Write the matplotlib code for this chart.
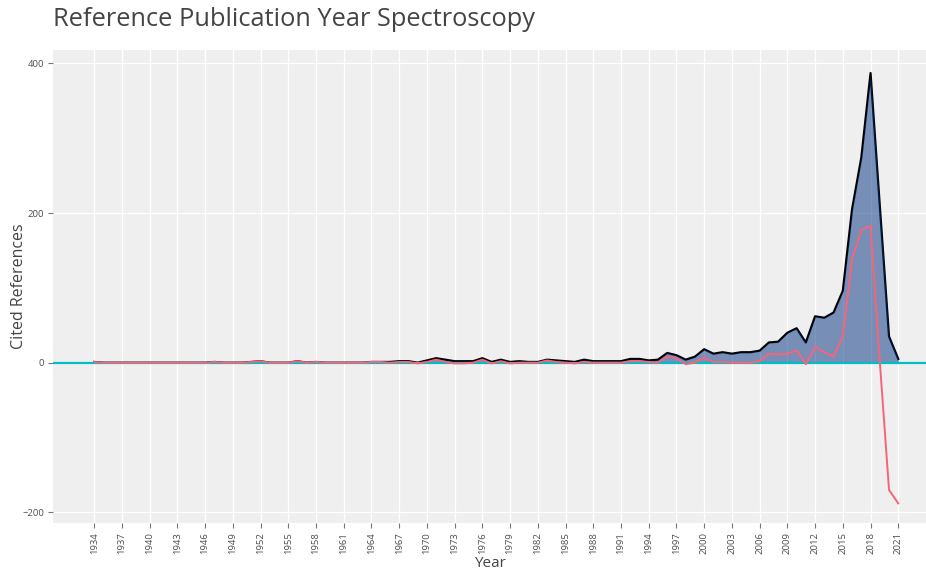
import matplotlib.pyplot as plt

# Datos (RPYS)
years = list(range(1934, 2022))

citations = [1, 0, 0, 0, 0, 0, 0, 0, 0, 0, 0, 0, 0, 1, 0, 0, 0, 1, 2, 0,   # 1934-1953
             0, 0, 2, 0, 1, 0, 0, 0, 0, 0, 1, 1, 1, 2, 2, 0,               # 1954-1969
             3, 6, 4, 2, 2, 2, 6, 1, 4, 1, 2, 1, 1, 4, 3, 2, 1, 4, 2, 2,   # 1970-1989
             2, 2, 5, 5, 3, 4, 13, 10, 4, 8, 18, 12, 14, 12, 14, 14,       # 1990-2005
             16, 27, 28, 40, 46, 27, 62, 60, 67, 96, 205, 274, 387, 210,   # 2006-2019
             35, 5]                                                        # 2020-2021

diff_median = [1, 0, 0, 0, 0, 0, 0, 0, 0, 0, 0, 0, 0, 1, 0, 0, 0, 1, 2, 0,
               0, 0, 2, 0, 1, 0, 0, 0, 0, 0, 1, 1, 0, 1, 1, -1,
               1, 4, 1, -1, -1, 0, 4, -1, 2, -1, 0, 0, 0, 3, 1, 0, -1, 1, 0, 0,
               0, 0, 2, 2, 1, 0, 8, 6, -2, 0, 7, 1, 1, 0, 0, 0,
               2, 12, 11, 12, 16, -2, 21, 14, 8, 35, 138, 177, 183, 2,
               -170, -188]

tick_years = list(range(1934, 2022, 3))

plt.rcParams['font.family'] = ['Open Sans', 'DejaVu Sans']

fig = plt.figure(figsize=(9.26, 5.71), dpi=100)
ax = fig.add_axes([53 / 926, 48 / 571, 873 / 926, 473 / 571])
ax.set_facecolor('#EFEFEF')

# linea negra, area azul encima, linea cero y desviacion de la mediana
ax.plot(years, citations, color='black', linewidth=1.6, zorder=2)
ax.fill_between(years, citations, 0, color='#002F80', alpha=0.5, linewidth=0, zorder=3)
ax.axhline(0, color='#00BFC4', linewidth=1.6, zorder=4)
ax.plot(years, diff_median, color='#F7647A', linewidth=1.4, zorder=5)

ax.set_xlim(1929.55, 2024.0)
ax.set_ylim(-214.2, 417.8)
ax.set_xticks(tick_years)
ax.set_xticklabels([str(y) for y in tick_years], rotation=90)
ax.set_yticks([-200, 0, 200, 400])

ax.grid(True, color='white', linewidth=0.9, zorder=0)
ax.set_axisbelow(True)
for s in ax.spines.values():
    s.set_visible(False)
ax.tick_params(axis='both', length=3.5, width=0.8, color='#777777',
               labelsize=6.8, labelcolor='#4D4D4D', pad=3)

ax.set_xlabel('Year', fontsize=11, color='#444444')
ax.xaxis.set_label_coords(0.5, -0.069)
ax.set_ylabel('Cited References', fontsize=11.5, color='#444444')
ax.yaxis.set_label_coords(-0.03, 0.5)
fig.text(53 / 926, 1 - 20 / 571, 'Reference Publication Year Spectroscopy',
         fontsize=18.3, color='#444444', ha='left', va='center')

plt.savefig('out.png', dpi=100)
plt.close()
